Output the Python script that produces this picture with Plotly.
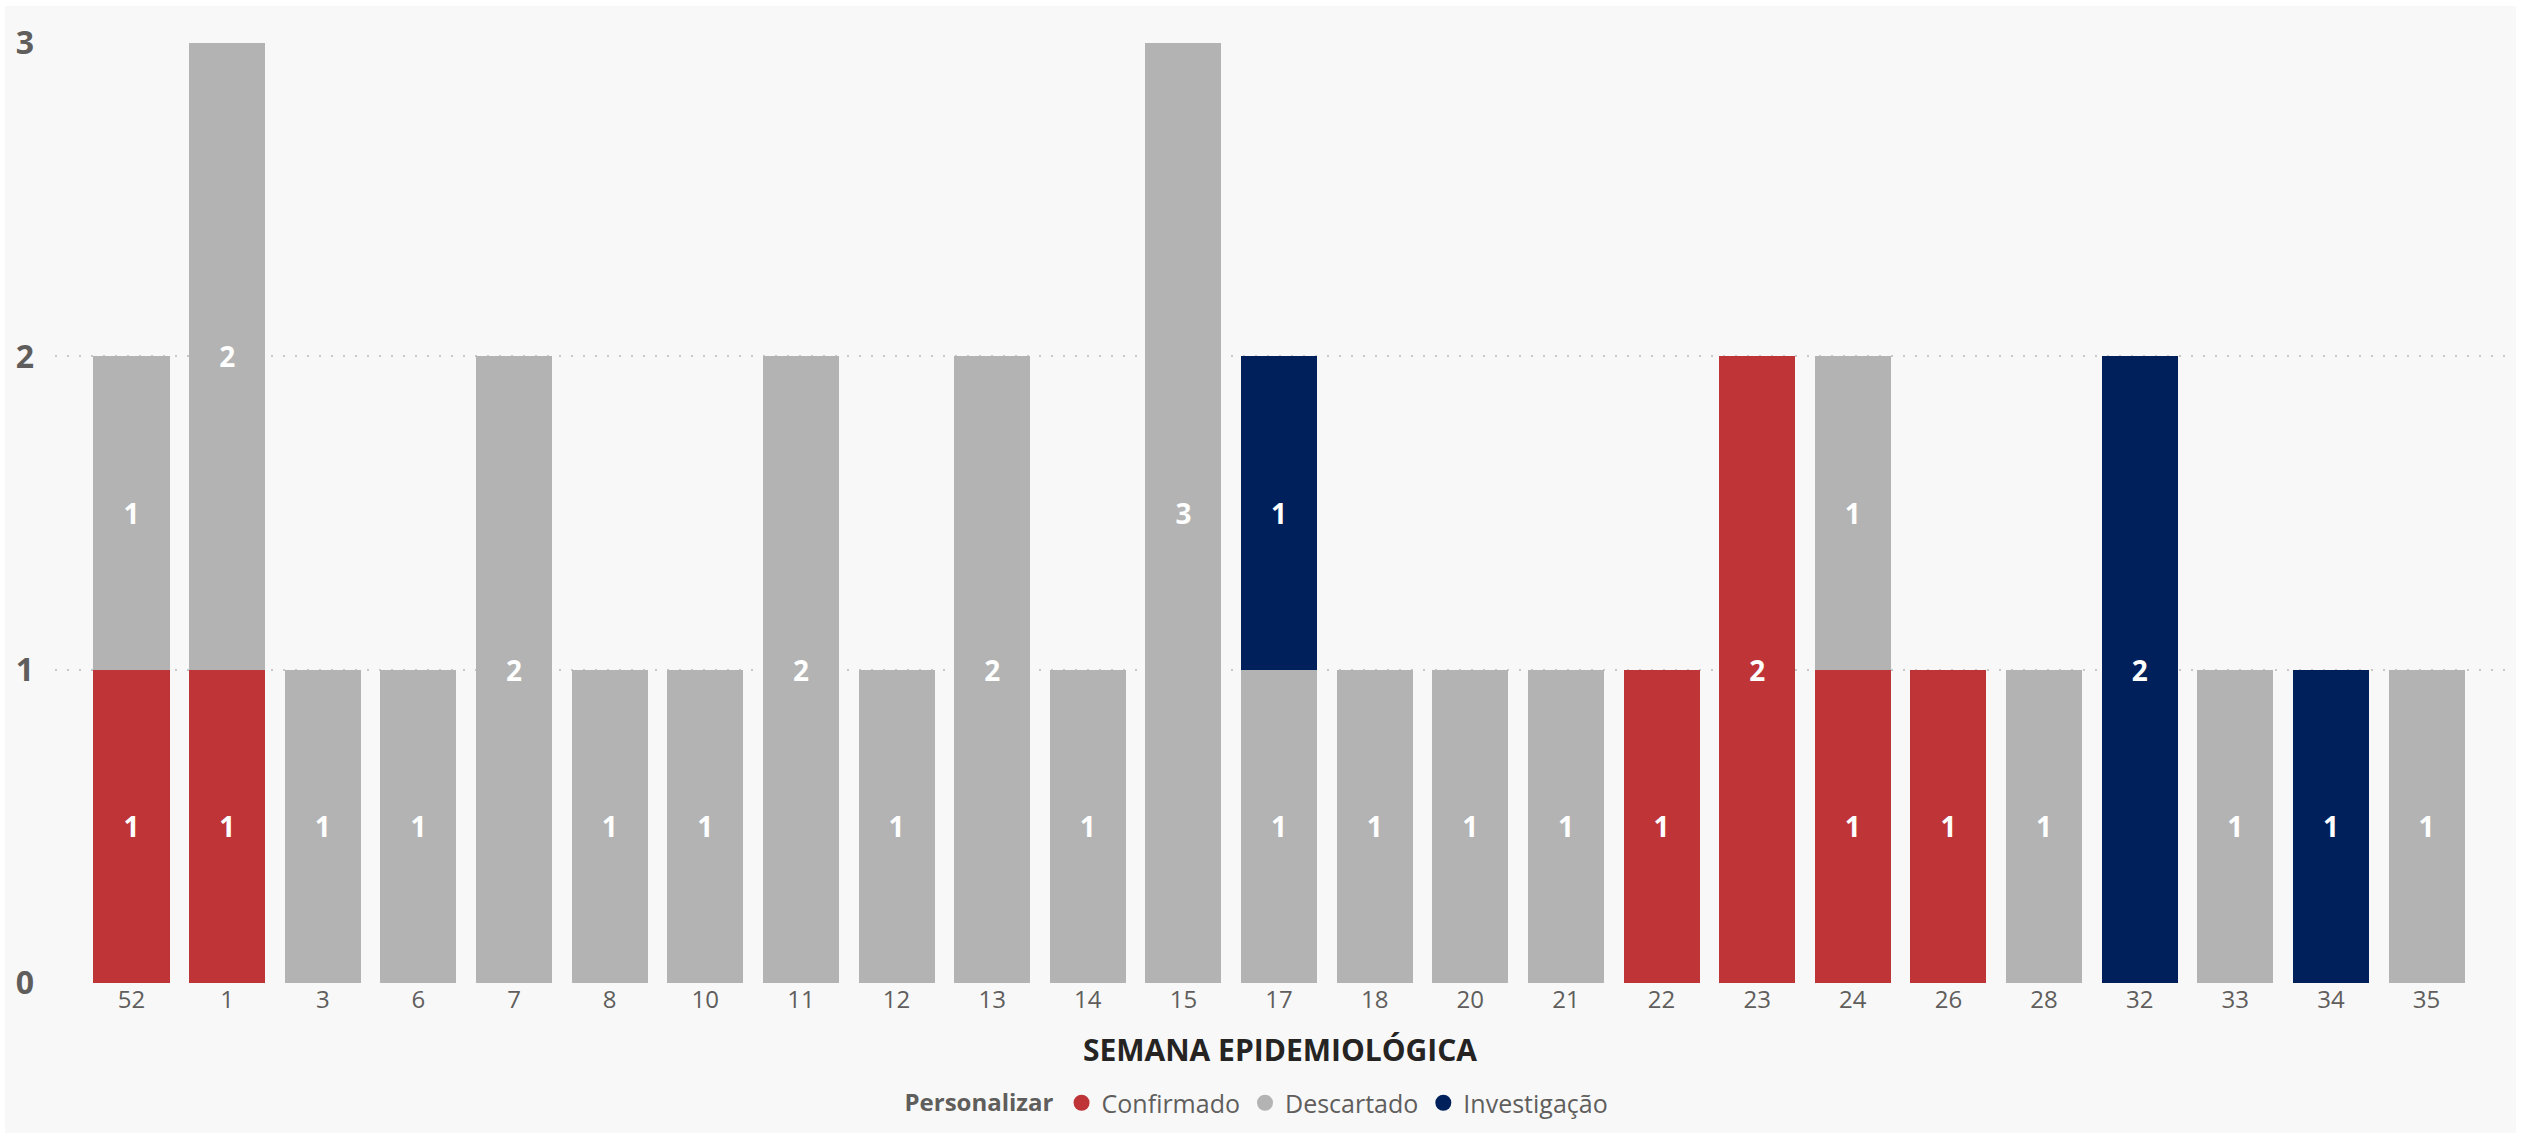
import plotly.graph_objects as go

weeks = ["52", "1", "3", "6", "7", "8", "10", "11", "12", "13", "14", "15", "17",
         "18", "20", "21", "22", "23", "24", "26", "28", "32", "33", "34", "35"]
confirmado = [1, 1, None, None, None, None, None, None, None, None, None, None, None,
              None, None, None, 1, 2, 1, 1, None, None, None, None, None]
descartado = [1, 2, 1, 1, 2, 1, 1, 2, 1, 2, 1, 3, 1,
              1, 1, 1, None, None, 1, None, 1, None, 1, None, 1]
investigacao = [None, None, None, None, None, None, None, None, None, None, None, None, 1,
                None, None, None, None, None, None, None, None, 2, None, 1, None]

series = [("Confirmado", confirmado, "#BE3437"),
          ("Descartado", descartado, "#B3B3B3"),
          ("Investigação", investigacao, "#00205B")]

W, H = 2525, 1133
ml, mr, mt, mb = 55, 20, 43, 150
FONT = "Open Sans"

fig = go.Figure()
for name, vals, col in series:
    fig.add_trace(go.Bar(
        x=weeks, y=vals, name=name, marker=dict(color=col, line=dict(width=0)),
        text=[("" if v is None else str(v)) for v in vals],
        textposition="inside", insidetextanchor="middle",
        textfont=dict(family=FONT, size=28, color="white", weight="bold"),
        textangle=0, showlegend=False,
    ))
for name, vals, col in series:
    fig.add_trace(go.Scatter(
        x=[None], y=[None], mode="markers", name=name,
        marker=dict(symbol="circle", size=22, color=col),
    ))

pw = W - ml - mr
ph = H - mt - mb
fig.add_shape(type="rect", xref="paper", yref="paper",
              x0=(5 - ml) / pw, x1=(2516 - ml) / pw,
              y0=(H - mb - 1140) / ph, y1=(H - mb - 6) / ph,
              fillcolor="#F8F8F8", line=dict(width=0), layer="below")

fig.update_layout(
    width=W, height=H,
    margin=dict(l=ml, r=mr, t=mt, b=mb),
    paper_bgcolor="white", plot_bgcolor="rgba(0,0,0,0)",
    barmode="stack", bargap=0.205,
    font=dict(family=FONT, color="#605E5C"),
    uniformtext=dict(minsize=10, mode="show"),
    xaxis=dict(
        type="category", range=[-0.8, 24.82], showgrid=False, zeroline=False,
        showline=False, ticks="", automargin=False,
        tickfont=dict(family=FONT, size=24, color="#605E5C"),
        title=dict(text="SEMANA EPIDEMIOLÓGICA",
                   font=dict(family=FONT, size=30, color="#252423", weight="bold"),
                   standoff=25),
    ),
    yaxis=dict(
        range=[0, 3], tickvals=[0, 1, 2, 3], showgrid=True, automargin=False,
        gridcolor="#C8C8C8", griddash="2px,10px", gridwidth=2,
        zeroline=False, showline=False, ticks="", ticklabelstandoff=20,
        tickfont=dict(family=FONT, size=32, color="#605E5C", weight="bold"),
    ),
    legend=dict(
        orientation="h", xref="container", yref="container",
        x=1258 / W, xanchor="center", y=1 - 1103 / H,
        yanchor="middle", bgcolor="rgba(0,0,0,0)", traceorder="normal",
        title=dict(text="Personalizar", font=dict(family=FONT, size=24, color="#605E5C", weight="bold")),
        font=dict(family=FONT, size=25, color="#605E5C"),
        itemsizing="trace", tracegroupgap=0, itemwidth=30,
    ),
)

fig.write_html("out.html", config={"displayModeBar": False})

with open("out.html", "r", encoding="utf-8") as f:
    html = f.read()
html = html.replace("<head>", "<head><style>html,body{margin:0;padding:0;background:white;}</style>", 1)
with open("out.html", "w", encoding="utf-8") as f:
    f.write(html)
